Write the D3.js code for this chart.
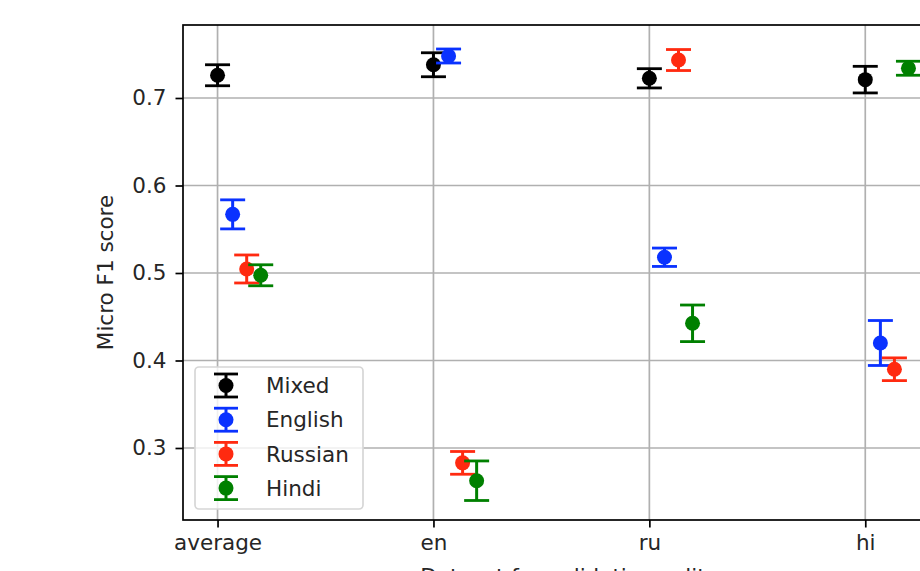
<!DOCTYPE html>
<html lang="en">

<head>
    <meta charset="UTF-8">
    <title>Micro F1 score by validation subset</title>
    <script src="https://d3js.org/d3.v7.min.js"></script>
</head>
<style>
    html, body {
        margin: 0;
        padding: 0;
        background: #fff;
    }
    
    text {
        font-family: "DejaVu Sans", sans-serif;
        fill: #262626;
    }
</style>

<body>
    <div id="chart"></div>
    <script>
        // chart values
        const categories = ['average', 'en', 'ru', 'hi'];
        const seriesNames = ['Mixed', 'English', 'Russian', 'Hindi'];
        const seriesColors = ['#000000', '#0a32ff', '#ff2a10', '#008000'];
        const seriesOffsets = [0, 0.07, 0.135, 0.2];

        const mixedMean = [0.726, 0.738, 0.7225, 0.721];
        const mixedErr = [0.012, 0.0137, 0.011, 0.0152];
        const englishMean = [0.567, 0.748, 0.518, 0.42];
        const englishErr = [0.0166, 0.008, 0.0105, 0.0257];
        const russianMean = [0.5046, 0.283, 0.7434, 0.39];
        const russianErr = [0.016, 0.013, 0.012, 0.013];
        const hindiMean = [0.4974, 0.2626, 0.4425, 0.734];
        const hindiErr = [0.012, 0.0226, 0.0209, 0.008];

        const yTicks = [0.3, 0.4, 0.5, 0.6, 0.7];
        const yLabel = 'Micro F1 score';
        const xLabel = 'Dataset for validation split';

        const means = [mixedMean, englishMean, russianMean, hindiMean];
        const errs = [mixedErr, englishErr, russianErr, hindiErr];

        const width = 920,
            height = 571;
        const fontSize = 21.5;

        const svg = d3.select('#chart')
            .append('svg')
            .attr('width', width)
            .attr('height', height)
            .style('display', 'block');

        svg.append('rect')
            .attr('width', width)
            .attr('height', height)
            .attr('fill', '#fff');

        // plot area (right side runs past the window, like the reference)
        const plotLeft = 183,
            plotRight = 943,
            plotTop = 25,
            plotBottom = 520;

        const x = d3.scaleLinear().domain([-0.16, 3.36]).range([plotLeft, plotRight]);
        const y = d3.scaleLinear().domain([0.21771, 0.78343]).range([plotBottom, plotTop]);

        const plot = svg.append('g');

        // grid
        plot.selectAll('.vgrid')
            .data(categories)
            .enter()
            .append('line')
            .attr('x1', (d, i) => x(i))
            .attr('x2', (d, i) => x(i))
            .attr('y1', plotTop)
            .attr('y2', plotBottom)
            .attr('stroke', '#b0b0b0')
            .attr('stroke-width', 1.7);

        plot.selectAll('.hgrid')
            .data(yTicks)
            .enter()
            .append('line')
            .attr('x1', plotLeft)
            .attr('x2', plotRight)
            .attr('y1', d => y(d))
            .attr('y2', d => y(d))
            .attr('stroke', '#b0b0b0')
            .attr('stroke-width', 1.7);

        // error bars
        const points = [];
        seriesNames.forEach((name, s) => {
            categories.forEach((c, i) => {
                points.push({
                    s: s,
                    x: i + seriesOffsets[s],
                    v: means[s][i],
                    e: errs[s][i],
                    color: seriesColors[s]
                });
            });
        });

        const capHalf = 12.5;
        const groups = plot.selectAll('.pt')
            .data(points)
            .enter()
            .append('g')
            .attr('class', 'pt');

        groups.append('line')
            .attr('x1', d => x(d.x))
            .attr('x2', d => x(d.x))
            .attr('y1', d => y(d.v - d.e))
            .attr('y2', d => y(d.v + d.e))
            .attr('stroke', d => d.color)
            .attr('stroke-width', 3);

        [-1, 1].forEach(sign => {
            groups.append('line')
                .attr('x1', d => x(d.x) - capHalf)
                .attr('x2', d => x(d.x) + capHalf)
                .attr('y1', d => y(d.v + sign * d.e))
                .attr('y2', d => y(d.v + sign * d.e))
                .attr('stroke', d => d.color)
                .attr('stroke-width', 2.8);
        });

        groups.append('circle')
            .attr('cx', d => x(d.x))
            .attr('cy', d => y(d.v))
            .attr('r', 7.5)
            .attr('fill', d => d.color);

        // spines
        svg.append('rect')
            .attr('x', plotLeft)
            .attr('y', plotTop)
            .attr('width', plotRight - plotLeft)
            .attr('height', plotBottom - plotTop)
            .attr('fill', 'none')
            .attr('stroke', '#000')
            .attr('stroke-width', 1.7);

        // y axis
        const yAxis = svg.append('g')
            .attr('transform', `translate(${plotLeft},0)`)
            .call(d3.axisLeft(y).tickValues(yTicks).tickSize(7.5).tickPadding(9).tickFormat(d3.format('.1f')));
        yAxis.select('.domain').remove();
        yAxis.selectAll('.tick line').attr('stroke', '#000').attr('stroke-width', 1.7);
        yAxis.selectAll('.tick text')
            .attr('font-size', fontSize)
            .attr('font-family', '"DejaVu Sans", sans-serif')
            .attr('fill', '#262626');

        // x axis
        const xAxis = svg.append('g')
            .attr('transform', `translate(0,${plotBottom})`)
            .call(d3.axisBottom(x).tickValues(d3.range(categories.length)).tickSize(7.5).tickPadding(7).tickFormat(i => categories[i]));
        xAxis.select('.domain').remove();
        xAxis.selectAll('.tick line').attr('stroke', '#000').attr('stroke-width', 1.7);
        xAxis.selectAll('.tick text')
            .attr('font-size', fontSize)
            .attr('font-family', '"DejaVu Sans", sans-serif')
            .attr('fill', '#262626');

        // axis labels
        svg.append('text')
            .attr('transform', `translate(113,${(plotTop + plotBottom) / 2}) rotate(-90)`)
            .attr('text-anchor', 'middle')
            .attr('font-size', fontSize)
            .text(yLabel);

        // the reference crops this label at the bottom edge
        svg.append('text')
            .attr('x', (plotLeft + plotRight) / 2)
            .attr('y', 584)
            .attr('text-anchor', 'middle')
            .attr('font-size', fontSize)
            .text(xLabel);

        // legend
        const legend = svg.append('g');
        legend.append('rect')
            .attr('x', 195)
            .attr('y', 367)
            .attr('width', 168)
            .attr('height', 142)
            .attr('rx', 4)
            .attr('fill', 'rgba(255,255,255,0.8)')
            .attr('stroke', '#d6d6d6')
            .attr('stroke-width', 1.7);

        const items = legend.selectAll('.item')
            .data(seriesNames)
            .enter()
            .append('g')
            .attr('class', 'item')
            .attr('transform', (d, i) => `translate(0,${385.5 + i * 34.2})`);

        items.append('line')
            .attr('x1', 226)
            .attr('x2', 226)
            .attr('y1', -11.5)
            .attr('y2', 11.5)
            .attr('stroke', (d, i) => seriesColors[i])
            .attr('stroke-width', 3);
        [-11.5, 11.5].forEach(dy => {
            items.append('line')
                .attr('x1', 226 - 12)
                .attr('x2', 226 + 12)
                .attr('y1', dy)
                .attr('y2', dy)
                .attr('stroke', (d, i) => seriesColors[i])
                .attr('stroke-width', 2.8);
        });
        items.append('circle')
            .attr('cx', 226)
            .attr('r', 7.5)
            .attr('fill', (d, i) => seriesColors[i]);
        items.append('text')
            .attr('x', 266)
            .attr('y', 0)
            .attr('dy', '0.36em')
            .attr('font-size', fontSize)
            .text(d => d);
    </script>
</body>

</html>
